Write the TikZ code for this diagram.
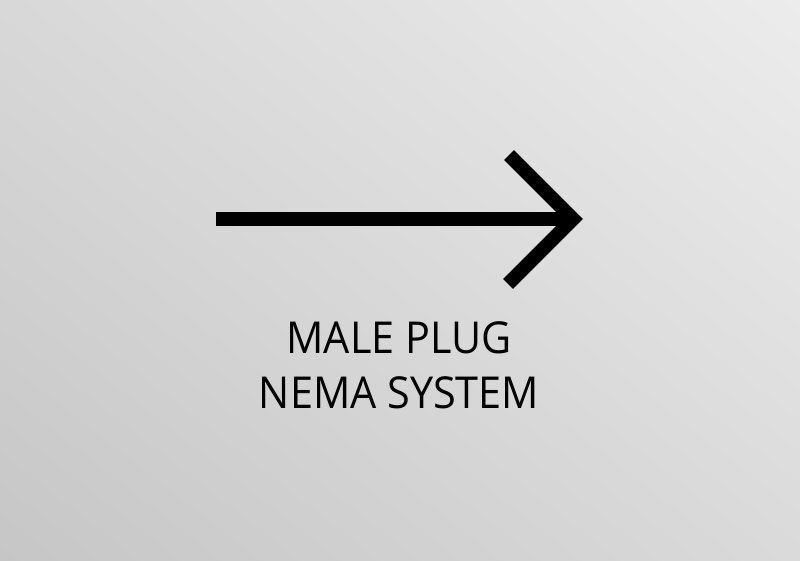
\documentclass[tikz,border=0pt]{standalone}
\usepackage{fontspec}
\setmainfont{Open Sans}[FakeStretch=0.94]
\usetikzlibrary{shadings}
\definecolor{bgul}{RGB}{216,216,216}
\definecolor{bgur}{RGB}{236,236,236}
\definecolor{bgll}{RGB}{198,198,198}
\definecolor{bglr}{RGB}{218,218,218}
\begin{document}
\begin{tikzpicture}[x=1pt,y=-1pt]
        %% background
        \shade[upper left=bgul,upper right=bgur,lower left=bgll,lower right=bglr]
            (0,0) rectangle (800,560);
        \useasboundingbox (0,0) rectangle (800,560);
        %% shaft
        \coordinate (tail) at (216,219);
        \coordinate (tip) at (573,219);
        \draw[line width=14pt] (tail) -- (tip);
        %% head
        \draw[line width=14pt,miter limit=4] (509,155) -- (tip) -- (508,284);
        %% label
        \node[font=\fontsize{44}{55}\selectfont,align=center,anchor=north]
            (label) at (399,318) {MALE PLUG\\NEMA SYSTEM};
    \end{tikzpicture}
\end{document}
